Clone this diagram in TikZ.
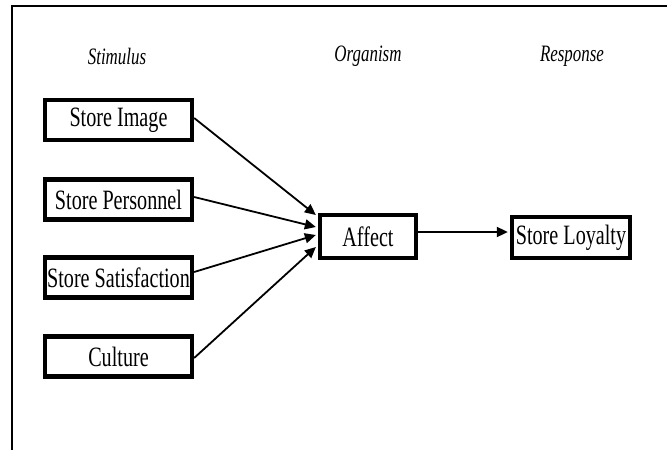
\documentclass[tikz,border=0pt]{standalone}
\usepackage{fontspec}
\newfontfamily\condserif[FakeStretch=0.72]{Liberation Serif}
\usetikzlibrary{arrows.meta}
\begin{document}
\begin{tikzpicture}[x=1pt,y=-1pt,
  box/.style={draw=black,line width=4.3pt,inner sep=0pt,align=center,
    font=\condserif\fontsize{28}{30}\selectfont},
  stimbox/.style={box,minimum width=147pt,minimum height=40pt},
  headlab/.style={inner sep=0pt,font=\condserif\itshape\fontsize{23.5}{25}\selectfont},
  arr/.style={line width=1.8pt,-{Triangle[length=11pt,width=10pt]}},
  frame/.style={line width=2.3pt}
]
\useasboundingbox (0,0) rectangle (667,450);
\coordinate (fa) at (12,451);
\coordinate (fb) at (12,6);
\coordinate (fc) at (668,6);
\draw[frame] (fa) -- (fb) -- (fc);

\node[headlab] (stim) at (117,56) {Stimulus};
\node[headlab] (org) at (368,56) {Organism};
\node[headlab] (resp) at (572,56) {Response};

\node[stimbox] (img) at (118.5,120) {Store Image};
\node[stimbox] (pers) at (118.5,199.5) {Store Personnel};
\node[stimbox] (sat) at (118.5,277.5) {Store Satisfaction};
\node[stimbox] (cult) at (118.5,356.5) {Culture};

\node[box,minimum width=96pt,minimum height=43pt] (aff) at (368,236.5) {Affect};
\node[box,minimum width=118pt,minimum height=41pt] (loy) at (571,237.5) {Store Loyalty};

\draw[arr] ([yshift=2pt]img.east) -- ([xshift=-2pt,yshift=21.5pt]aff.west);
\draw[arr] ([yshift=2.5pt]pers.east) -- ([xshift=-2pt,yshift=9.5pt]aff.west);
\draw[arr] ([yshift=5.5pt]sat.east) -- ([xshift=-2pt,yshift=1.5pt]aff.west);
\draw[arr] ([yshift=-1.5pt]cult.east) -- ([xshift=-2pt,yshift=-10.5pt]aff.west);
\draw[arr] ([yshift=4.5pt]aff.east) -- ([xshift=-2pt,yshift=5.5pt]loy.west);
\end{tikzpicture}
\end{document}
